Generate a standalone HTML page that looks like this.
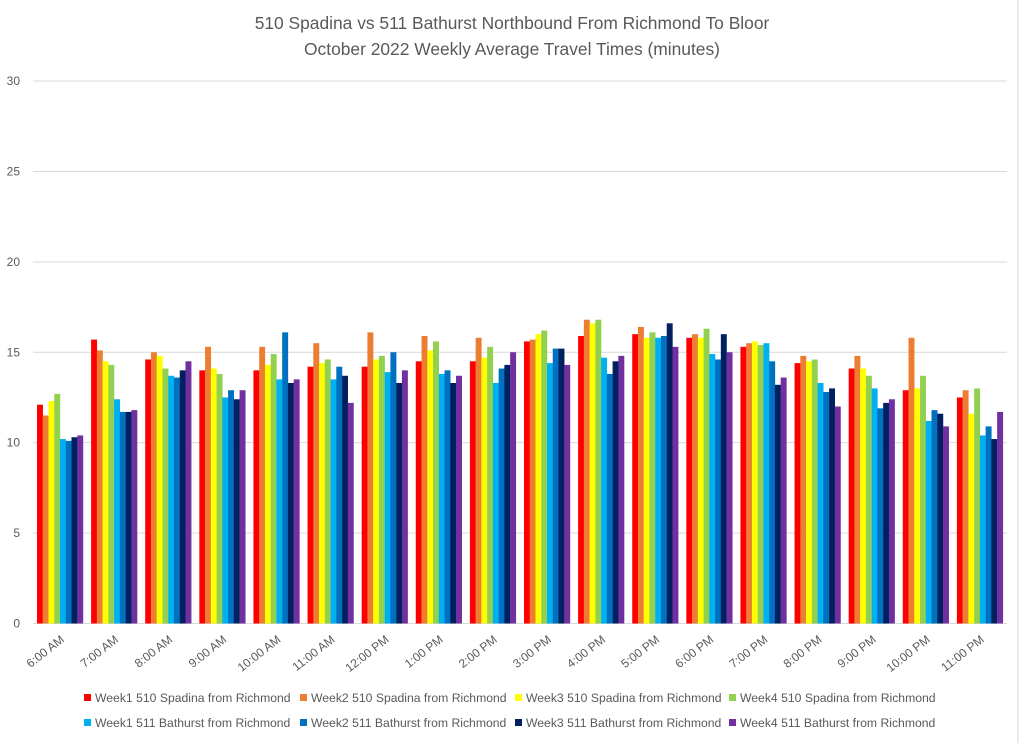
<!DOCTYPE html>
<html><head><meta charset="utf-8"><style>
body{margin:0;background:#fff;}
svg text{font-family:"Liberation Sans",Calibri,sans-serif;fill:#595959;}
</style></head><body>
<svg id="chart" width="1024" height="743" xmlns="http://www.w3.org/2000/svg">
<rect x="0" y="0" width="1024" height="743" fill="#fff"/>
<line x1="1018" y1="0" x2="1018" y2="743" stroke="#d9d9d9"/>
<text x="512" y="29" font-size="17.4" text-anchor="middle">510 Spadina vs 511 Bathurst Northbound From Richmond To Bloor</text>
<text x="512" y="55" font-size="17.4" text-anchor="middle">October 2022 Weekly Average Travel Times (minutes)</text>
<g id="grid"></g><g id="bars"></g><g id="xlabels"></g><g id="legend"></g>
</svg>
<script>
const categories=["6:00 AM","7:00 AM","8:00 AM","9:00 AM","10:00 AM","11:00 AM","12:00 PM","1:00 PM","2:00 PM","3:00 PM","4:00 PM","5:00 PM","6:00 PM","7:00 PM","8:00 PM","9:00 PM","10:00 PM","11:00 PM"];
const seriesNames=["Week1 510 Spadina from Richmond","Week2 510 Spadina from Richmond","Week3 510 Spadina from Richmond","Week4 510 Spadina from Richmond","Week1 511 Bathurst from Richmond","Week2 511 Bathurst from Richmond","Week3 511 Bathurst from Richmond","Week4 511 Bathurst from Richmond"];
const seriesColors=["#FF0000","#ED7D31","#FFFF00","#92D050","#00B0F0","#0070C0","#002060","#7030A0"];
const w1Spadina=[12.1,15.7,14.6,14.0,14.0,14.2,14.2,14.5,14.5,15.6,15.9,16.0,15.8,15.3,14.4,14.1,12.9,12.5];
const w2Spadina=[11.5,15.1,15.0,15.3,15.3,15.5,16.1,15.9,15.8,15.7,16.8,16.4,16.0,15.5,14.8,14.8,15.8,12.9];
const w3Spadina=[12.3,14.5,14.8,14.1,14.3,14.4,14.6,15.1,14.7,16.0,16.6,15.8,15.8,15.6,14.5,14.1,13.0,11.6];
const w4Spadina=[12.7,14.3,14.1,13.8,14.9,14.6,14.8,15.6,15.3,16.2,16.8,16.1,16.3,15.4,14.6,13.7,13.7,13.0];
const w1Bathurst=[10.2,12.4,13.7,12.5,13.5,13.5,13.9,13.8,13.3,14.4,14.7,15.8,14.9,15.5,13.3,13.0,11.2,10.4];
const w2Bathurst=[10.1,11.7,13.6,12.9,16.1,14.2,15.0,14.0,14.1,15.2,13.8,15.9,14.6,14.5,12.8,11.9,11.8,10.9];
const w3Bathurst=[10.3,11.7,14.0,12.4,13.3,13.7,13.3,13.3,14.3,15.2,14.5,16.6,16.0,13.2,13.0,12.2,11.6,10.2];
const w4Bathurst=[10.4,11.8,14.5,12.9,13.5,12.2,14.0,13.7,15.0,14.3,14.8,15.3,15.0,13.6,12.0,12.4,10.9,11.7];
const series=[w1Spadina,w2Spadina,w3Spadina,w4Spadina,w1Bathurst,w2Bathurst,w3Bathurst,w4Bathurst];
const yTicks=[0,5,10,15,20,25,30];

const NS="http://www.w3.org/2000/svg";
const X0=33,X1=1007,Y0=623.5,Y30=81;
const yScale=v=>Y0-(v/30)*(Y0-Y30);
const gw=(X1-X0)/categories.length;
const bw=5.75;
const xGroup=i=>X0+i*gw;
function mk(tag,attrs,parent){const e=document.createElementNS(NS,tag);for(const k in attrs)e.setAttribute(k,attrs[k]);parent.appendChild(e);return e;}
const grid=document.getElementById('grid');
yTicks.forEach(t=>{
  const y=yScale(t);
  const l=mk('line',{x1:X0,x2:X1,y1:y,y2:y,stroke:'#d9d9d9','stroke-width':1},grid);
  
  
  const tx=mk('text',{x:20,y:y+4,'font-size':12,'text-anchor':'end'},grid);
  tx.textContent=t;
  
  
});
const bars=document.getElementById('bars');
categories.forEach((c,i)=>{
  series.forEach((s,k)=>{
    const x=xGroup(i)+4+k*bw;
    const y=yScale(s[i]);
    const r=mk('rect',{x:x,y:y,width:bw+0.2,height:Y0-y,fill:seriesColors[k]},bars);
    
    
  });
});
const xl=document.getElementById('xlabels');
categories.forEach((c,i)=>{
  const cx=xGroup(i)+gw/2+5;
  const t=mk('text',{x:cx,y:641,'font-size':12,'text-anchor':'end',transform:`rotate(-38 ${cx} 641)`},xl);
  t.textContent=c;
  
  
});
const lg=document.getElementById('legend');
const lx=[84,300,515,729], ly=[702,727];
seriesNames.forEach((n,k)=>{
  const x=lx[k%4], y=ly[Math.floor(k/4)];
  const g=mk('g',{},lg);
  
  
  mk('rect',{x:x,y:y-8,width:7,height:7,fill:seriesColors[k]},g);
  const t=mk('text',{x:x+11,y:y,'font-size':12.2},g);
  t.textContent=n;
});
</script>
</body></html>
